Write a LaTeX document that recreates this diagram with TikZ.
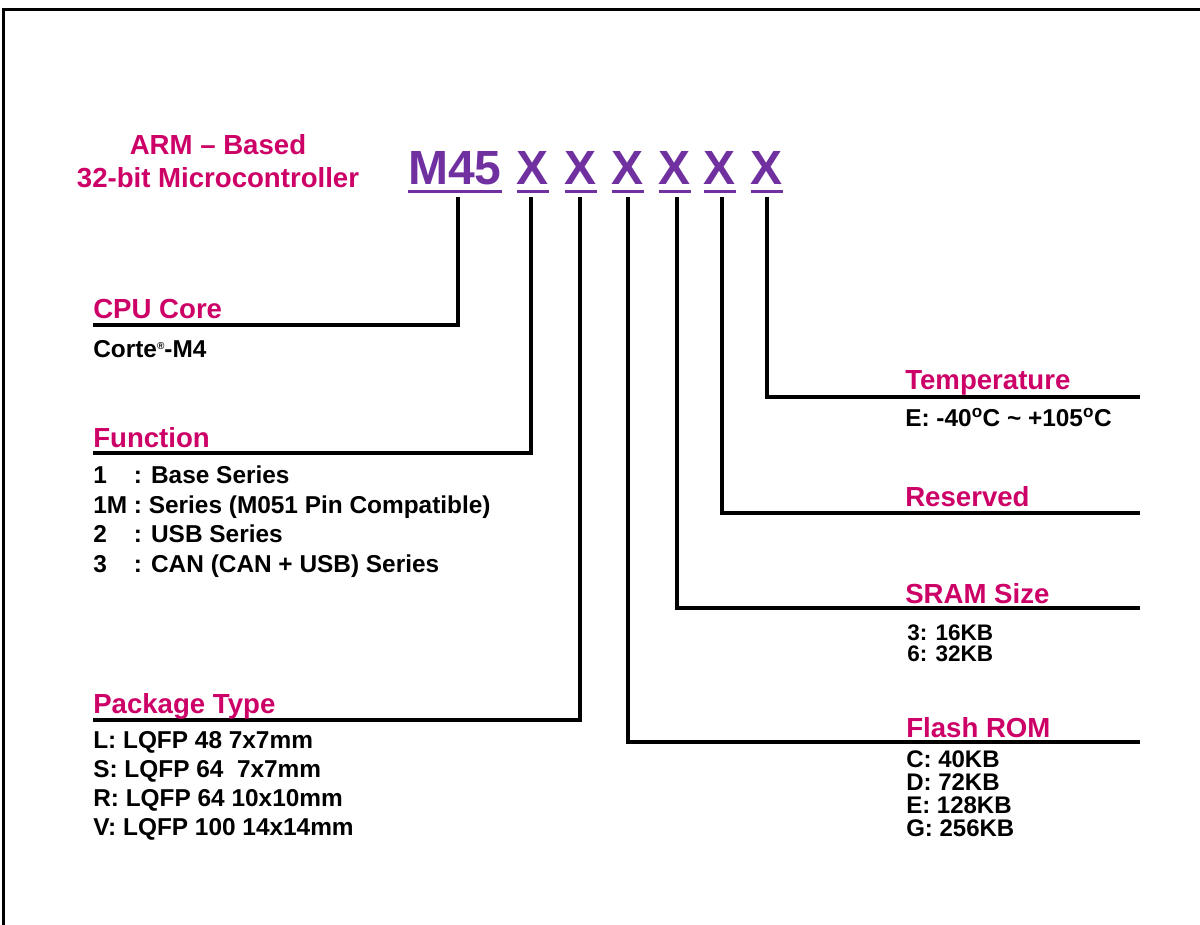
\documentclass[tikz,border=0pt]{standalone}
\usepackage{fontspec}
\setmainfont{Liberation Sans}
\usepackage{tikz}
\usetikzlibrary{positioning,calc}
\definecolor{headred}{RGB}{204,0,102}
\definecolor{codepurple}{RGB}{112,48,160}

\begin{document}
\begin{tikzpicture}[x=1pt, y=-1pt, semithick,
		head/.style={text=headred, font=\fontsize{27.6}{33}\selectfont\bfseries, inner sep=0pt, anchor=base west},
		body/.style={text=black, font=\fontsize{24.4}{29}\selectfont\bfseries, inner sep=0pt, anchor=north west, align=left},
		code/.style={text=codepurple, font=\fontsize{48}{56}\selectfont\bfseries, inner sep=0pt, anchor=base},
		ul/.style={draw=codepurple, line width=3.5pt},
		conn/.style={draw=black, line width=3.5pt}]
	\useasboundingbox (0,0) rectangle (1200,925);
	\draw[line width=3pt] (3,930) -- (3,10) -- (1205,10);

	% title
	\node[head, anchor=base] (arm) at (218,155) {ARM – Based};
	\node[head, anchor=base] (mcu) at (218,188) {32-bit Microcontroller};

	% part number
	\node[code] (m45) at (455,185) {M45};
	\foreach \i/\x in {1/533,2/581,3/628,4/675,5/720,6/767}
		\node[code] (x\i) at (\x,185) {X};
	\draw[ul] ([yshift=-6.5pt]m45.base west) -- ([yshift=-6.5pt]m45.base east);
	\foreach \i in {1,...,6}
		\draw[ul] ([yshift=-6.5pt]x\i.base west) -- ([yshift=-6.5pt]x\i.base east);

	% line ends
	\coordinate (cpuend) at (93,325);
	\coordinate (funcend) at (93,453);
	\coordinate (pkgend) at (93,720);
	\coordinate (flashend) at (1140,742);
	\coordinate (sramend) at (1140,608);
	\coordinate (resend) at (1140,513);
	\coordinate (tempend) at (1140,397);

	\draw[conn] ([xshift=3pt,yshift=-12pt]m45.base) |- (cpuend);
	\draw[conn] ([xshift=-2pt,yshift=-12pt]x1.base) |- (funcend);
	\draw[conn] ([xshift=-1pt,yshift=-12pt]x2.base) |- (pkgend);
	\draw[conn] ([yshift=-12pt]x3.base) |- (flashend);
	\draw[conn] ([xshift=2pt,yshift=-12pt]x4.base) |- (sramend);
	\draw[conn] ([xshift=2pt,yshift=-12pt]x5.base) |- (resend);
	\draw[conn] ([yshift=-12pt]x6.base) |- (tempend);

	% left side
	\node[head] (cpu) at (93,319) {CPU Core};
	\node[body] (cpulist) at (93,340) {Corte\raisebox{8pt}{\fontsize{10}{10}\selectfont\textregistered}-M4};
	\node[head] (func) at (93,447) {Function};
	\node[body, font=\fontsize{24.4}{29.5}\selectfont\bfseries] (funclist) at (93,466)
		{1\phantom{M} : Base Series\\1M : Series (M051 Pin Compatible)\\2\phantom{M} : USB Series\\3\phantom{M} : CAN (CAN + USB) Series};
	\node[head] (pkg) at (93,713) {Package Type};
	\node[body] (pkglist) at (93,731)
		{L: LQFP 48 7x7mm\\S: LQFP 64 \ 7x7mm\\R: LQFP 64 10x10mm\\V: LQFP 100 14x14mm};

	% right side
	\node[head] (temp) at (905,390) {Temperature};
	\node[body] (templist) at (905,408) {E: -40\textsuperscript{o}C \textasciitilde{} +105\textsuperscript{o}C};
	\node[head] (res) at (905,506) {Reserved};
	\node[head] (sram) at (905,603) {SRAM Size};
	\node[body, font=\fontsize{22.5}{21.5}\selectfont\bfseries] (sramlist) at (907,624) {3: 16KB\\6: 32KB};
	\node[head] (flash) at (906,737) {Flash ROM};
	\node[body, font=\fontsize{24}{23}\selectfont\bfseries] (flashlist) at (906,750) {C: 40KB\\D: 72KB\\E: 128KB\\G: 256KB};
\end{tikzpicture}
\end{document}
